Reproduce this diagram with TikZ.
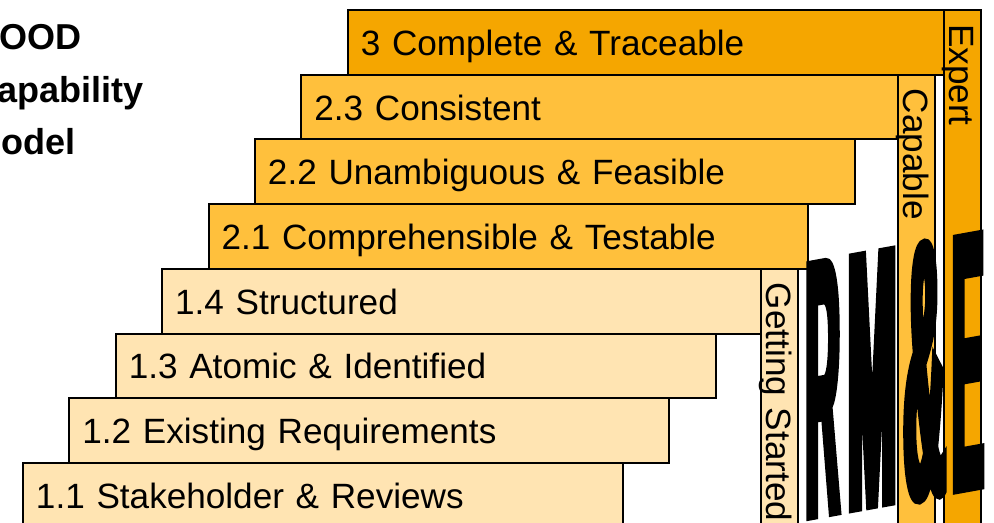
\documentclass[tikz,border=0pt]{standalone}
\usepackage{fontspec}
\usepackage{graphicx}
\setmainfont{Liberation Sans}
\newfontfamily\logofont{Liberation Sans Bold}[FakeStretch=0.128,FakeBold=1.3]
\usepackage{tikz}

\definecolor{expertc}{RGB}{245,166,0}
\definecolor{capablec}{RGB}{255,192,60}
\definecolor{startc}{RGB}{255,228,178}

\tikzset{
  stepbox/.style={draw, line width=1.1pt, anchor=north west,
    minimum height=1.294cm, inner xsep=0.26cm, inner ysep=0pt,
    text width=11.48cm, align=left, text height=0.52cm, text depth=0pt,
    font=\fontsize{20}{24}\selectfont},
  colbox/.style={draw, line width=1.1pt, rotate=-90, anchor=north west,
    minimum height=0.74cm, inner xsep=0.28cm, inner ysep=0pt,
    text width=#1, align=left, text height=0.52cm, text depth=0pt,
    font=\fontsize{20}{24}\selectfont},
  heading/.style={anchor=base west, inner sep=0pt,
    font=\bfseries\fontsize{20.5}{24}\selectfont},
  logo/.style={anchor=base west, inner sep=0pt, yslant=0.18,
    font=\logofont\fontsize{211}{212}\selectfont},
}

\begin{document}
\begin{tikzpicture}[x=0.02cm, y=-0.02cm]
  \clip (0,0) rectangle (994,523);
  \useasboundingbox (0,0) rectangle (994,523);

  % title
  \node[heading] (titleA) at (-29,50) {GOOD};
  \node[heading] (titleB) at (-29,103) {Capability};
  \node[heading] (titleC) at (-29,155) {Model};

  % steps
  \node[stepbox, fill=expertc] (s3) at (346.8,9.1) {3 Complete \& Traceable};
  \node[stepbox, fill=capablec] (s23) at (300.4,73.8) {2.3 Consistent};
  \node[stepbox, fill=capablec] (s22) at (254,138.5) {2.2 Unambiguous \& Feasible};
  \node[stepbox, fill=capablec] (s21) at (207.6,203.2) {2.1 Comprehensible \& Testable};
  \node[stepbox, fill=startc] (s14) at (161.2,267.9) {1.4 Structured};
  \node[stepbox, fill=startc] (s13) at (114.8,332.6) {1.3 Atomic \& Identified};
  \node[stepbox, fill=startc] (s12) at (68.4,397.3) {1.2 Existing Requirements};
  \node[stepbox, fill=startc] (s11) at (22,462) {1.1 Stakeholder \& Reviews};

  % levels
  \node[colbox=10.04cm, fill=expertc] (expert) at (982,9.1) {Expert};
  \node[colbox=8.74cm, fill=capablec] (capable) at (936,73.8) {Capable};
  \node[colbox=4.86cm, fill=startc] (started) at (799,267.9) {Getting Started};

  % logo
  \node[logo] (rme) at (805.3,519)
    {R\kern4.6pt\scalebox{1.22}[1]{M}\kern4.2pt\scalebox{1.22}[1]{\&}\kern3.8pt E};
\end{tikzpicture}
\end{document}
